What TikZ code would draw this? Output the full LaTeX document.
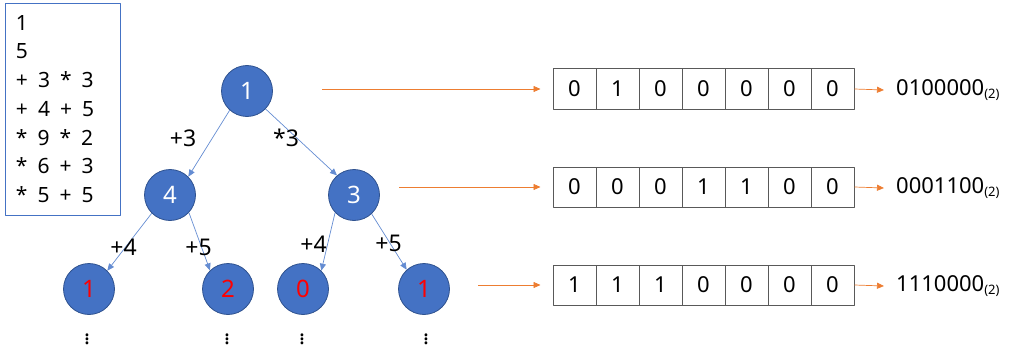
\documentclass[tikz,border=0pt]{standalone}
\usepackage{fontspec}
\setmainfont{Noto Sans}
\usetikzlibrary{arrows.meta,calc,positioning}
\definecolor{treeblue}{RGB}{68,114,196}
\definecolor{treeborder}{RGB}{47,82,143}
\definecolor{linkblue}{RGB}{100,140,210}
\definecolor{bitorange}{RGB}{237,125,49}
\definecolor{cellgray}{RGB}{89,89,89}
\definecolor{leafred}{RGB}{255,0,0}
\newcommand{\bitsub}{\raisebox{-3pt}{\fontsize{13}{14}\selectfont(2)}}
\newcommand{\opgap}{\hspace{10pt}}

\begin{document}
\begin{tikzpicture}[>=Stealth,line join=round,x=1pt,y=-1pt,
 state/.style={circle,fill=treeblue,draw=treeborder,line width=.8pt,
  minimum size=51pt,inner sep=0pt,text=white,font=\fontsize{24}{26}\selectfont},
 leaf/.style={state,text=leafred},
 link/.style={linkblue,line width=.7pt,-{Triangle[length=7pt,width=6pt]}},
 oplabel/.style={font=\fontsize{23}{26}\selectfont,inner sep=0pt},
 bitcell/.style={draw=cellgray,line width=1pt,minimum width=43pt,
  minimum height=40pt,inner sep=0pt,font=\fontsize{22}{24}\selectfont},
 result/.style={anchor=west,inner xsep=12pt,inner ysep=0pt,
  font=\fontsize{22}{24}\selectfont},
 toarr/.style={bitorange,line width=.7pt,-{Triangle[length=7pt,width=6pt]}}]
 \useasboundingbox (0,0) rectangle (1023,361);
 % Wejście zadania.
 \node[draw=treeblue,line width=.9pt,minimum width=115pt,minimum height=212pt,
  text width=93pt,align=left,inner sep=0pt,
  font=\fontsize{21}{28.7}\selectfont] (input) at (62.5,109)
  {1\\5\\+\opgap3\opgap*\opgap3\\+\opgap4\opgap+\opgap5\\
   {}*\opgap9\opgap*\opgap2\\{}*\opgap6\opgap+\opgap3\\{}*\opgap5\opgap+\opgap5};
 % Drzewo stanów.
 \node[state] (root) at (247,91) {1};
 \node[state] (a) at (170,195) {4};
 \node[state] (b) at (354,195) {3};
 \node[leaf] (aa) at (89,289) {1};
 \node[leaf] (ab) at (228,289) {2};
 \node[leaf] (ba) at (303,289) {0};
 \node[leaf] (bb) at (424,289) {1};
 \draw[link] (root.228) -- (a.45);
 \draw[link] (root.-44) -- (b.131);
 \draw[link] (a.225) -- (aa.45);
 \draw[link] (a.-43) -- (ab.134);
 \draw[link] (b.223) -- (ba.45);
 \draw[link] (b.-47) -- (bb.132);
 \node[oplabel] (la) at (183,138) {+3};
 \node[oplabel] (lb) at (286,138) {*3};
 \node[oplabel] (laa) at (123.5,247) {+4};
 \node[oplabel] (lab) at (198.5,247) {+5};
 \node[oplabel] (lba) at (313.5,244) {+4};
 \node[oplabel] (lbb) at (388.5,243) {+5};
 \foreach \nm/\x in {aa/87,ab/227,ba/302,bb/426}
  \node[font=\fontsize{22}{24}\selectfont,inner sep=0pt] (d\nm) at (\x,336)
   {$\vdots$};
 % Maski bitowe dla kolejnych poziomów.
 \foreach \row/\y/\sx/\bits/\val in {1/89/322/{0,1,0,0,0,0,0}/0100000,
   2/187/399/{0,0,0,1,1,0,0}/0001100,3/285/478/{1,1,1,0,0,0,0}/1110000} {
  \foreach \bit [count=\col] in \bits
   \node[bitcell] (r\row-\col) at (531.5+43*\col,\y) {\bit};
  \coordinate (s\row) at (\sx,\y);
  \draw[toarr,shorten >=12pt] (s\row) -- (r\row-1.west);
  \node[result] (o\row) at (884,\y+1) {\val\bitsub};
  \draw[toarr] (r\row-7.east) -- (o\row.west);
 }
\end{tikzpicture}
\end{document}
